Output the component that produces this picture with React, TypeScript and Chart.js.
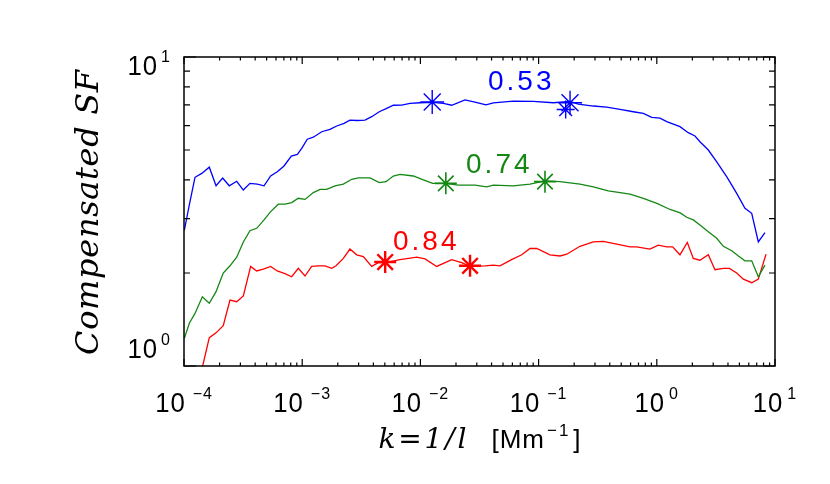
import React, { useEffect, useRef } from "react";
import { Chart, registerables } from "chart.js";
Chart.register(...registerables);

// log10(k) positions and compensated SF values
const blueLogK = [-3.997, -3.955, -3.907, -3.85, -3.786, -3.729, -3.673, -3.617, -3.554, -3.498, -3.442, -3.38, -3.323, -3.267, -3.211, -3.154, -3.092, -3.041, -3.004, -2.957, -2.906, -2.835, -2.765, -2.708, -2.646, -2.596, -2.536, -2.469, -2.412, -2.348, -2.285, -2.229, -2.158, -2.088, -2.003, -1.896, -1.806, -1.735, -1.623, -1.538, -1.445, -1.383, -1.214, -1.045, -0.876, -0.734, -0.664, -0.537, -0.424, -0.311, -0.199, -0.114, -0.043, 0.027, 0.084, 0.196, 0.266, 0.323, 0.365, 0.436, 0.507, 0.591, 0.676, 0.746, 0.803, 0.859, 0.915];
const blueSF = [2.75, 3.32, 4.08, 4.2, 4.4, 3.83, 4.06, 3.83, 3.96, 3.71, 3.9, 3.88, 3.83, 4.12, 4.25, 4.44, 4.78, 4.84, 5.06, 5.42, 5.5, 5.73, 5.83, 5.98, 6.1, 6.25, 6.23, 6.25, 6.41, 6.65, 6.82, 6.98, 6.99, 7.08, 7.11, 7.13, 7.08, 6.98, 7.26, 7.15, 7.0, 7.11, 7.2, 7.18, 7.11, 7.18, 7.04, 6.94, 6.88, 6.77, 6.65, 6.57, 6.38, 6.34, 6.18, 5.95, 5.69, 5.55, 5.32, 5.0, 4.58, 4.1, 3.62, 3.24, 3.12, 2.52, 2.7];

const greenLogK = [-3.997, -3.955, -3.907, -3.845, -3.786, -3.729, -3.668, -3.611, -3.554, -3.498, -3.442, -3.385, -3.323, -3.267, -3.202, -3.146, -3.089, -3.033, -2.976, -2.906, -2.849, -2.793, -2.722, -2.652, -2.581, -2.525, -2.426, -2.348, -2.291, -2.229, -2.173, -2.06, -1.975, -1.896, -1.792, -1.679, -1.538, -1.439, -1.383, -1.214, -1.073, -0.946, -0.819, -0.65, -0.537, -0.41, -0.311, -0.227, -0.114, 0.001, 0.112, 0.198, 0.253, 0.309, 0.365, 0.436, 0.507, 0.563, 0.634, 0.69, 0.746, 0.803, 0.859, 0.915];
const greenSF = [1.23, 1.375, 1.48, 1.675, 1.596, 1.74, 2.0, 2.11, 2.25, 2.52, 2.74, 2.79, 2.97, 3.16, 3.34, 3.34, 3.38, 3.49, 3.46, 3.64, 3.73, 3.73, 3.83, 3.88, 4.02, 4.06, 4.06, 3.92, 3.95, 4.12, 4.17, 4.12, 4.0, 3.9, 3.9, 3.85, 3.85, 3.8, 3.85, 3.83, 3.88, 3.97, 3.95, 3.88, 3.8, 3.69, 3.64, 3.6, 3.49, 3.36, 3.21, 3.13, 3.03, 2.97, 2.86, 2.72, 2.59, 2.44, 2.36, 2.27, 2.19, 2.19, 1.945, 2.12];

const redLogK = [-3.904, -3.842, -3.786, -3.729, -3.668, -3.611, -3.554, -3.498, -3.436, -3.385, -3.329, -3.267, -3.211, -3.146, -3.089, -3.033, -2.976, -2.92, -2.864, -2.807, -2.75, -2.714, -2.652, -2.596, -2.539, -2.483, -2.412, -2.356, -2.291, -2.173, -2.031, -1.961, -1.862, -1.735, -1.651, -1.58, -1.453, -1.383, -1.327, -1.228, -1.143, -1.073, -1.016, -0.904, -0.819, -0.762, -0.65, -0.537, -0.453, -0.339, -0.227, -0.17, -0.058, 0.013, 0.084, 0.134, 0.196, 0.258, 0.309, 0.365, 0.436, 0.492, 0.563, 0.614, 0.676, 0.732, 0.803, 0.859, 0.924];
const redSF = [0.82, 1.0, 1.235, 1.28, 1.35, 1.635, 1.615, 1.685, 2.1, 2.03, 2.06, 2.1, 2.03, 1.99, 1.945, 2.07, 1.955, 2.1, 2.11, 2.11, 2.07, 2.11, 2.23, 2.39, 2.29, 2.26, 2.1, 2.16, 2.16, 2.21, 2.25, 2.22, 2.1, 2.21, 2.16, 2.1, 2.11, 2.12, 2.11, 2.21, 2.29, 2.4, 2.4, 2.29, 2.27, 2.3, 2.44, 2.52, 2.53, 2.48, 2.43, 2.43, 2.39, 2.46, 2.43, 2.43, 2.29, 2.51, 2.23, 2.2, 2.29, 2.05, 2.07, 2.07, 2.0, 1.91, 1.86, 1.91, 2.3];

// star markers
const blueStarLogK = [-1.9, -0.734, -0.771];
const blueStarSF = [7.15, 7.11, 6.76];
const greenStarLogK = [-1.785, -0.946];
const greenStarSF = [3.9, 3.95];
const redStarLogK = [-2.298, -1.58];
const redStarSF = [2.17, 2.11];

// series annotations
const seriesLabels = ["0.53", "0.74", "0.84"];
const labelLogK = [-1.428, -1.614, -2.232];
const labelSF = [7.82, 4.21, 2.374];

// axes
const xDecades = [-4, -3, -2, -1, 0, 1];
const yDecades = [0, 1];
const yTitle = "Compensated SF";
const xTitleMath = "k=1/l";
const xTitleUnit = "[Mm";
const xTitleUnitExp = "\u22121";

const BLUE = "rgb(0,0,255)";
const GREEN = "rgb(20,135,20)";
const RED = "rgb(255,0,0)";

const pts = (lk: number[], v: number[]) => lk.map((e, i) => ({ x: Math.pow(10, e), y: v[i] }));
const expStr = (d: number) => (d < 0 ? "\u2212" + String(-d) : String(d));

function drawText(ctx: CanvasRenderingContext2D, s: string, x: number, y: number, font: string, color: string, sx = 1, spacing = 0) {
  ctx.save();
  ctx.font = font;
  (ctx as any).letterSpacing = spacing + "px";
  ctx.fillStyle = color;
  ctx.textAlign = "left";
  ctx.textBaseline = "alphabetic";
  ctx.translate(x, y);
  ctx.scale(sx, 1);
  ctx.fillText(s, 0, 0);
  ctx.restore();
}
function textW(ctx: CanvasRenderingContext2D, s: string, font: string, sx = 1, spacing = 0) {
  ctx.save();
  ctx.font = font;
  (ctx as any).letterSpacing = spacing + "px";
  const w = ctx.measureText(s).width * sx;
  ctx.restore();
  return w;
}
function fitSpacing(ctx: CanvasRenderingContext2D, s: string, font: string, target: number) {
  const w0 = textW(ctx, s, font);
  return (target - w0) / Math.max(1, s.length - 1);
}

const SANS = "'Liberation Sans', 'DejaVu Sans', sans-serif";
const SERIF = "'DejaVu Serif', 'Liberation Serif', serif";

const framePlugin = {
  id: "idlFrame",
  afterDatasetsDraw(chart: any) {
    const ctx: CanvasRenderingContext2D = chart.ctx;
    const { left, right, top, bottom } = chart.chartArea;
    const xs = chart.scales.x;
    const ys = chart.scales.y;
    ctx.save();
    ctx.strokeStyle = "#000";
    ctx.lineWidth = 1.5;
    ctx.strokeRect(left, top, right - left, bottom - top);
    ctx.lineWidth = 1.2;
    ctx.beginPath();
    for (const d of xDecades) {
      for (let m = 1; m <= 9; m++) {
        const v = m * Math.pow(10, d);
        if (v > 10.0001) break;
        const px = xs.getPixelForValue(v);
        const len = m === 1 ? 7 : 3.5;
        ctx.moveTo(px, bottom);
        ctx.lineTo(px, bottom - len);
        ctx.moveTo(px, top);
        ctx.lineTo(px, top + len);
      }
    }
    for (let m = 1; m <= 10; m++) {
      const py = ys.getPixelForValue(m);
      const len = m === 1 || m === 10 ? 12 : 6;
      ctx.moveTo(left, py);
      ctx.lineTo(left + len, py);
      ctx.moveTo(right, py);
      ctx.lineTo(right - len, py);
    }
    ctx.stroke();
    ctx.restore();

    const mainFont = "28px " + SANS;
    const expFont = "16px " + SANS;
    for (const d of xDecades) {
      const px = xs.getPixelForValue(Math.pow(10, d));
      const e = expStr(d);
      const w1 = textW(ctx, "10", mainFont, 0.92, 1);
      const gap = d < 0 ? 7 : 4;
      const w2 = textW(ctx, e, expFont, 1, 1);
      const x0 = px - (w1 + gap + w2) / 2;
      drawText(ctx, "10", x0, 412, mainFont, "#000", 0.92, 1);
      drawText(ctx, e, x0 + w1 + gap, 399, expFont, "#000", 1, 1);
    }
    const yOff = [-8, 18];
    yDecades.forEach((d, i) => {
      const py = ys.getPixelForValue(Math.pow(10, d));
      const e = expStr(d);
      const w1 = textW(ctx, "10", mainFont, 0.92, 1);
      const w2 = textW(ctx, e, expFont, 1, 0);
      const xr = left - 14;
      const x0 = xr - w2 - 3 - w1;
      drawText(ctx, "10", x0, py + yOff[i], mainFont, "#000", 0.92, 1);
      drawText(ctx, e, x0 + w1 + 3, py + yOff[i] - 13, expFont, "#000", 1, 0);
    });

    const cols = [BLUE, GREEN, RED];
    seriesLabels.forEach((s, i) => {
      const px = xs.getPixelForValue(Math.pow(10, labelLogK[i]));
      const py = ys.getPixelForValue(labelSF[i]);
      drawText(ctx, s, px, py, "28px " + SANS, cols[i], 1, 3);
    });

    // y title
    const yFont = "italic 32px " + SERIF;
    const ySp = fitSpacing(ctx, yTitle, yFont, 285);
    const ywt = textW(ctx, yTitle, yFont, 1, ySp) - ySp;
    ctx.save();
    ctx.translate(98, (top + bottom) / 2 + 1);
    ctx.rotate(-Math.PI / 2);
    drawText(ctx, yTitle, -ywt / 2, 0, yFont, "#000", 1, ySp);
    ctx.restore();

    // x title
    const mFont = "italic 28px " + SERIF;
    const uFont = "26px " + SANS;
    const eFont = "17px " + SANS;
    const mSp = fitSpacing(ctx, xTitleMath, mFont, 88);
    const uSp = 1;
    const eSp = 2;
    const wm = textW(ctx, xTitleMath, mFont, 1, mSp) - mSp;
    const wu = textW(ctx, xTitleUnit, uFont, 1, uSp) - uSp;
    const we = textW(ctx, xTitleUnitExp, eFont, 1, eSp) - eSp;
    const wb = textW(ctx, "]", uFont);
    const g1 = 25, g2 = 3, g3 = 5;
    const total = wm + g1 + wu + g2 + we + g3 + wb;
    let cx = (left + right) / 2 - total / 2;
    const base = 448;
    drawText(ctx, xTitleMath, cx, base, mFont, "#000", 1, mSp);
    cx += wm + g1;
    drawText(ctx, xTitleUnit, cx, base, uFont, "#000", 1, uSp);
    cx += wu + g2;
    drawText(ctx, xTitleUnitExp, cx, base - 12, eFont, "#000", 1, eSp);
    cx += we + g3;
    drawText(ctx, "]", cx, base, uFont, "#000");
  },
};

export default function App() {
  const ref = useRef<HTMLCanvasElement>(null);
  useEffect(() => {
    if (!ref.current) return;
    const line = (data: any, color: string) => ({
      type: "line" as const,
      data,
      borderColor: color,
      backgroundColor: color,
      borderWidth: 1.3,
      pointRadius: 0,
      tension: 0,
      fill: false,
    });
    const stars = (data: any, color: string, radius: number | number[], bw: number) => ({
      type: "line" as const,
      data,
      showLine: false,
      borderColor: color,
      backgroundColor: color,
      pointStyle: "star",
      pointRadius: radius,
      pointBorderWidth: bw,
      borderWidth: bw,
    });
    const chart = new Chart(ref.current, {
      type: "line",
      data: {
        datasets: [
          line(pts(blueLogK, blueSF), BLUE),
          line(pts(greenLogK, greenSF), GREEN),
          line(pts(redLogK, redSF), RED),
          stars(pts(blueStarLogK, blueStarSF), BLUE, [12, 12, 9], 1.4),
          stars(pts(greenStarLogK, greenStarSF), GREEN, 11, 1.6),
          stars(pts(redStarLogK, redStarSF), RED, 11, 2.4),
        ] as any,
      },
      options: {
        responsive: false,
        animation: false,
        events: [],
        layout: { padding: { left: 184, right: 55, top: 57, bottom: 118 } },
        plugins: { legend: { display: false }, tooltip: { enabled: false } },
        scales: {
          x: { type: "logarithmic", min: 1e-4, max: 10, display: false },
          y: { type: "logarithmic", min: 1, max: 10, display: false },
        },
      } as any,
      plugins: [framePlugin],
    });
    return () => chart.destroy();
  }, []);
  return (
    <div style={{ position: "fixed", left: 0, top: 0, width: 830, height: 484, background: "#fff" }}>
      <canvas ref={ref} width={830} height={484} style={{ width: 830, height: 484, display: "block" }} />
    </div>
  );
}
